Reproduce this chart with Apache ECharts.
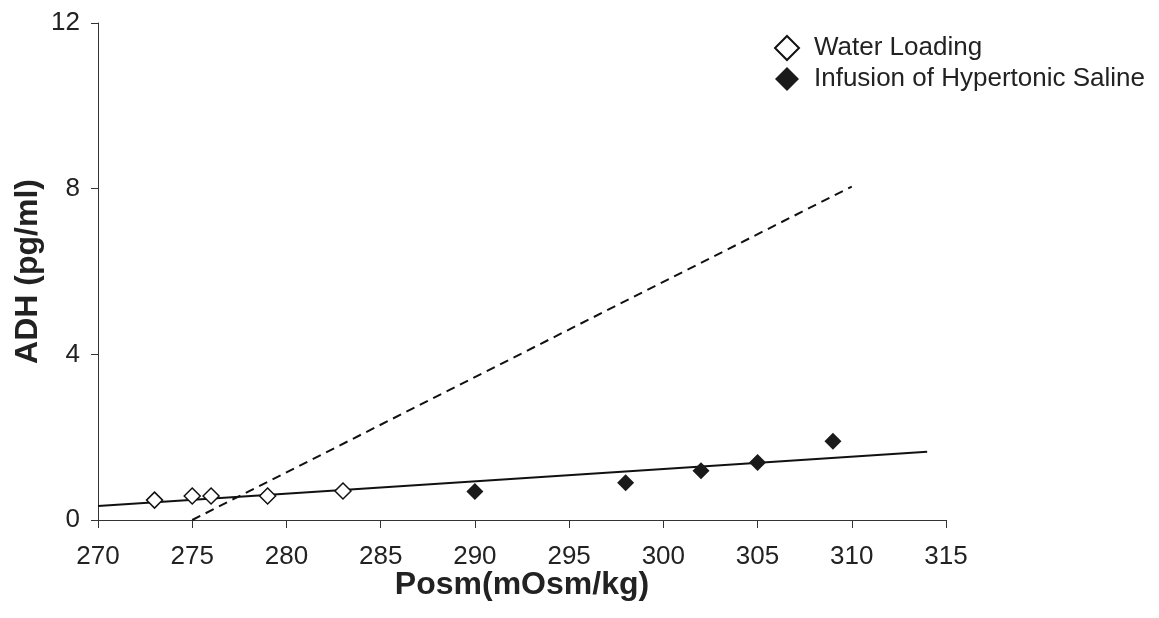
<!DOCTYPE html>
<html>
<head>
<meta charset="utf-8">
<script src="https://cdn.jsdelivr.net/npm/echarts@6/dist/echarts.min.js"></script>
<style>html,body{margin:0;padding:0;background:#fff}#c{width:1159px;height:618px}</style>
</head>
<body>
<div id="c"></div>
<script>
const waterX = [273, 275, 276, 279, 283];
const waterY = [0.48, 0.58, 0.58, 0.58, 0.70];
const salineX = [290, 298, 302, 305, 309];
const salineY = [0.69, 0.90, 1.19, 1.39, 1.90];
const solidLineX = [270, 314];
const solidLineY = [0.34, 1.65];
const dashedLineX = [275, 310];
const dashedLineY = [0, 8.05];
const xTicks = [270, 275, 280, 285, 290, 295, 300, 305, 310, 315];
const yTicks = [0, 4, 8, 12];

const zip = (a, b) => a.map((v, i) => [v, b[i]]);
const font = 'Liberation Sans, Arial, sans-serif';

const chart = echarts.init(document.getElementById('c'), null, {renderer: 'canvas'});
chart.setOption({
  animation: false,
  backgroundColor: '#fff',
  grid: {left: 98, right: 213, top: 23, bottom: 98, containLabel: false, outerBoundsMode: 'none'},
  legend: {
    orient: 'vertical', left: 769, top: 30, itemGap: 5,
    itemWidth: 24, itemHeight: 24,
    textStyle: {fontFamily: font, fontSize: 26, color: '#222', padding: [0, 0, 0, 10]},
    data: [
      {name: 'Water Loading', icon: 'diamond'},
      {name: 'Infusion of Hypertonic Saline', icon: 'diamond'}
    ]
  },
  xAxis: {
    type: 'value', min: xTicks[0], max: xTicks[xTicks.length - 1], interval: 5,
    name: 'Posm(mOsm/kg)', nameLocation: 'middle', nameGap: 49, nameMoveOverlap: false,
    nameTextStyle: {fontFamily: font, fontSize: 32, fontWeight: 'bold', color: '#222'},
    axisLine: {onZero: false, lineStyle: {color: '#333', width: 1}},
    axisTick: {show: true, inside: false, length: 8, lineStyle: {color: '#333'}},
    axisLabel: {fontFamily: font, fontSize: 26, color: '#222', margin: 24},
    splitLine: {show: false}
  },
  yAxis: {
    type: 'value', min: yTicks[0], max: yTicks[yTicks.length - 1], interval: 4,
    name: 'ADH (pg/ml)', nameLocation: 'middle', nameGap: 54, nameRotate: 90, nameMoveOverlap: false,
    nameTextStyle: {fontFamily: font, fontSize: 32, fontWeight: 'bold', color: '#222'},
    axisLine: {show: true, onZero: false, lineStyle: {color: '#333', width: 1}},
    axisTick: {show: true, inside: false, length: 7, lineStyle: {color: '#333'}},
    axisLabel: {fontFamily: font, fontSize: 26, color: '#222', margin: 18},
    splitLine: {show: false}
  },
  series: [
    {
      name: 'Regression', type: 'line', data: zip(solidLineX, solidLineY),
      symbol: 'none', lineStyle: {color: '#111', width: 2}, z: 2
    },
    {
      name: 'Dashed', type: 'line', data: zip(dashedLineX, dashedLineY),
      symbol: 'none', lineStyle: {color: '#111', width: 2, type: [9, 6]}, z: 2
    },
    {
      name: 'Water Loading', type: 'scatter', data: zip(waterX, waterY),
      symbol: 'diamond', symbolSize: 16,
      itemStyle: {color: '#fff', borderColor: '#111', borderWidth: 1.5, opacity: 1}, z: 3
    },
    {
      name: 'Infusion of Hypertonic Saline', type: 'scatter', data: zip(salineX, salineY),
      symbol: 'diamond', symbolSize: 17,
      itemStyle: {color: '#1a1a1a', opacity: 1}, z: 3
    }
  ]
});
</script>
</body>
</html>
